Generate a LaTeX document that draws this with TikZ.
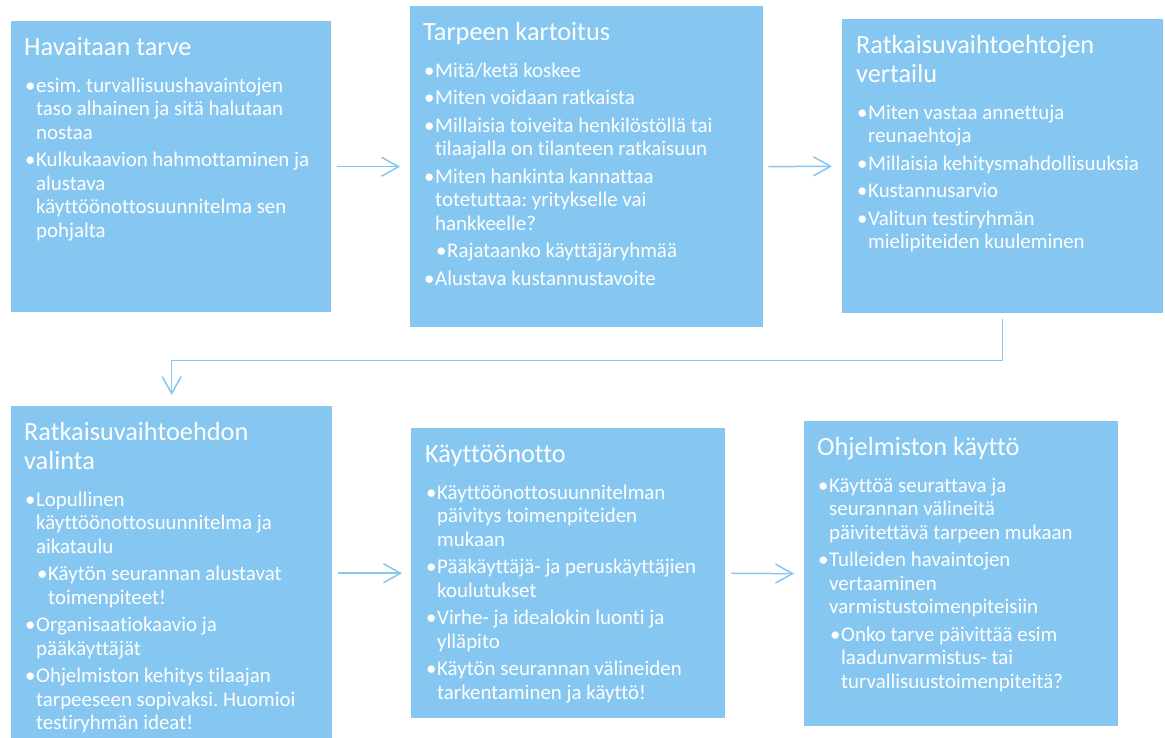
\documentclass[tikz,border=0pt]{standalone}
\usepackage{fontspec}
\setmainfont{Carlito}[Ligatures=NoCommon]
\usetikzlibrary{arrows.meta}

\definecolor{boxblue}{HTML}{85C7F0}
\definecolor{arrowblue}{HTML}{85C7F0}

% Title and bullet items inside a box
\newcommand{\ttl}[1]{{\fontsize{26.3}{29}\selectfont #1\par}\setlength{\parskip}{4pt}\vspace{9pt}}
\newcommand{\itm}[1]{\par\hangindent=12pt\hangafter=1\noindent\hspace*{1pt}\makebox[11pt][l]{•}#1}
\newcommand{\subitm}[1]{\par\hangindent=24pt\hangafter=1\noindent\hspace*{13pt}\makebox[11pt][l]{•}#1}
\newenvironment{boxbody}{\begin{minipage}[t]{330pt}\raggedright\frenchspacing\fontsize{20.9}{23.5}\selectfont}{\par\end{minipage}}

\tikzset{
  stepbox/.style={fill=boxblue, anchor=north west, inner sep=0pt},
  boxtext/.style={text=white, anchor=base west, inner sep=0pt},
  flow/.style={draw=arrowblue, line width=1.5pt, -{Straight Barb[length=17pt, width=19pt, line width=1.5pt]}}
}

\begin{document}
\begin{tikzpicture}[x=1pt, y=-1pt]
\useasboundingbox (0,0) rectangle (1165,737);

% Draw boxes
\node[stepbox, minimum width=320pt, minimum height=291pt] (b1) at (11,21) {};
\node[stepbox, minimum width=353pt, minimum height=321pt] (b2) at (410,6) {};
\node[stepbox, minimum width=321pt, minimum height=294pt] (b3) at (842,19) {};
\node[stepbox, minimum width=321pt, minimum height=334pt] (b4) at (11,406) {};
\node[stepbox, minimum width=314pt, minimum height=290pt] (b5) at (411,428) {};
\node[stepbox, minimum width=314pt, minimum height=305pt] (b6) at (804,421) {};

% Box texts
\node[boxtext] (t1) at ([shift={(13,34.5)}]b1.north west) {\begin{boxbody}
  \ttl{Havaitaan tarve}
  \itm{esim. turvallisuushavaintojen\newline taso alhainen ja sitä halutaan\newline nostaa}
  \itm{Kulkukaavion hahmottaminen ja\newline alustava\newline käyttöönottosuunnitelma sen\newline pohjalta}
\end{boxbody}};
\node[boxtext] (t2) at ([shift={(13,34.5)}]b2.north west) {\begin{boxbody}
  \ttl{Tarpeen kartoitus}
  \itm{Mitä/ketä koskee}
  \itm{Miten voidaan ratkaista}
  \itm{Millaisia toiveita henkilöstöllä tai\newline tilaajalla on tilanteen ratkaisuun}
  \itm{Miten hankinta kannattaa\newline totetuttaa: yritykselle vai\newline hankkeelle?}
  \subitm{Rajataanko käyttäjäryhmää}
  \itm{Alustava kustannustavoite}
\end{boxbody}};
\node[boxtext] (t3) at ([shift={(14,34.5)}]b3.north west) {\begin{boxbody}
  \ttl{Ratkaisuvaihtoehtojen\newline vertailu}
  \itm{Miten vastaa annettuja\newline reunaehtoja}
  \itm{Millaisia kehitysmahdollisuuksia}
  \itm{Kustannusarvio}
  \itm{Valitun testiryhmän\newline mielipiteiden kuuleminen}
\end{boxbody}};
\node[boxtext] (t4) at ([shift={(13,34.5)}]b4.north west) {\begin{boxbody}
  \ttl{Ratkaisuvaihtoehdon\newline valinta}
  \itm{Lopullinen\newline käyttöönottosuunnitelma ja\newline aikataulu}
  \subitm{Käytön seurannan alustavat\newline toimenpiteet!}
  \itm{Organisaatiokaavio ja\newline pääkäyttäjät}
  \itm{Ohjelmiston kehitys tilaajan\newline tarpeeseen sopivaksi. Huomioi\newline testiryhmän ideat!}
\end{boxbody}};
\node[boxtext] (t5) at ([shift={(14,34.5)}]b5.north west) {\begin{boxbody}
  \ttl{Käyttöönotto}
  \itm{Käyttöönottosuunnitelman\newline päivitys toimenpiteiden\newline mukaan}
  \itm{Pääkäyttäjä- ja peruskäyttäjien\newline koulutukset}
  \itm{Virhe- ja idealokin luonti ja\newline ylläpito}
  \itm{Käytön seurannan välineiden\newline tarkentaminen ja käyttö!}
\end{boxbody}};
\node[boxtext] (t6) at ([shift={(13,34.5)}]b6.north west) {\begin{boxbody}
  \ttl{Ohjelmiston käyttö}
  \itm{Käyttöä seurattava ja\newline seurannan välineitä\newline päivitettävä tarpeen mukaan}
  \itm{Tulleiden havaintojen\newline vertaaminen\newline varmistustoimenpiteisiin}
  \subitm{Onko tarve päivittää esim\newline laadunvarmistus- tai\newline turvallisuustoimenpiteitä?}
\end{boxbody}};

% Draw arrows
\draw[flow, shorten <=6pt, shorten >=10pt] (b1.east) -- (b2.west);
\draw[flow, shorten <=5pt, shorten >=10pt] (b2.east) -- (b3.west);
\draw[flow, shorten <=6pt, shorten >=11pt] (b3.south) -- ++(0,47) -| (b4.north);
\draw[flow, shorten <=6pt, shorten >=9pt] (b4.east) -- (b5.west);
\draw[flow, shorten <=6pt, shorten >=10pt] (b5.east) -- (b6.west);
\end{tikzpicture}
\end{document}
